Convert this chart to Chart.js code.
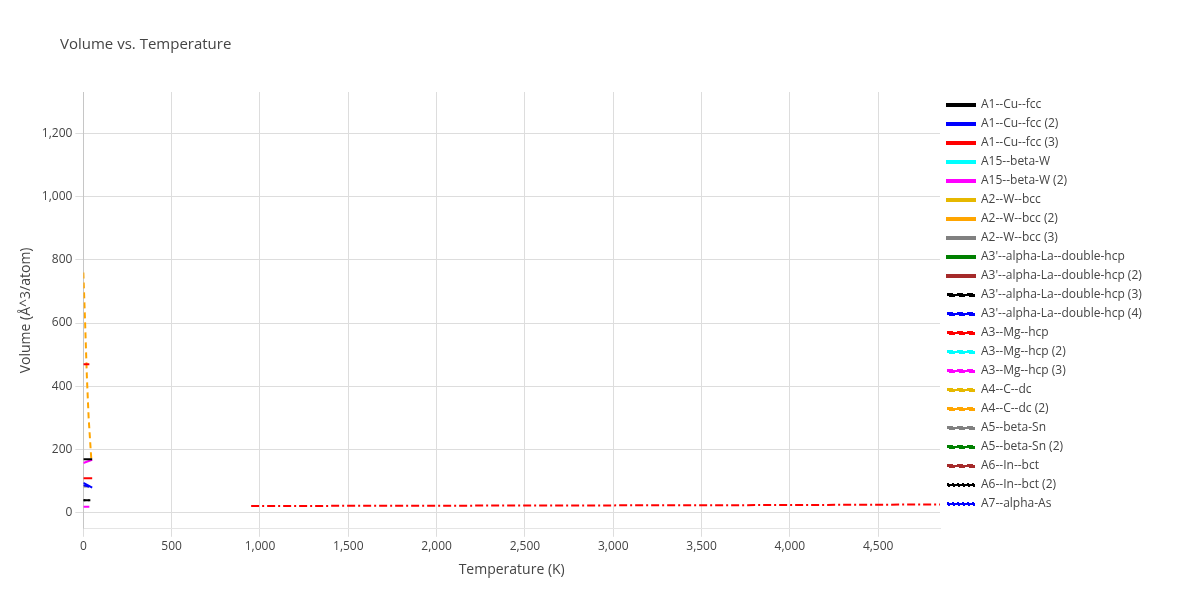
<!DOCTYPE html>
<html><head><script src="https://cdn.jsdelivr.net/npm/chart.js@4"></script>
<style>body{margin:0;background:#fff}#w{width:1200px;height:600px;position:relative}</style></head>
<body><div id="w"><canvas id="c"></canvas></div>
<script>
const names=["A1--Cu--fcc","A1--Cu--fcc (2)","A1--Cu--fcc (3)","A15--beta-W","A15--beta-W (2)","A2--W--bcc","A2--W--bcc (2)","A2--W--bcc (3)","A3'--alpha-La--double-hcp","A3'--alpha-La--double-hcp (2)","A3'--alpha-La--double-hcp (3)","A3'--alpha-La--double-hcp (4)","A3--Mg--hcp","A3--Mg--hcp (2)","A3--Mg--hcp (3)","A4--C--dc","A4--C--dc (2)","A5--beta-Sn","A5--beta-Sn (2)","A6--In--bct","A6--In--bct (2)","A7--alpha-As","extra"];
const colors=["#000","#0000ff","#ff0000","#00ffff","#ff00ff","#e6b800","#ffa500","#808080","#008000","#a52a2a","#000","#0000ff","#ff0000","#00ffff","#ff00ff","#e6b800","#ffa500","#808080","#008000","#a52a2a","#000","#0000ff","#ff0000"];
const dashes=[[],[],[],[],[],[],[],[],[],[],[6,4],[6,4],[6,4],[6,4],[6,4],[6,4],[6,4],[6,4],[6,4],[6,4],[2,3],[2,3],[8,3,2,3]];
const xs=[[0,50],[0,50],[0,50],[],[0,50],[],[],[],[],[],[0,50],[0,25,50],[0,50],[],[0,50],[],[0,10,20,30,45],[0,50],[],[],[0,50],[],[950,2000,3000,4000,4850]];
const ys=[[170,170],[95,80],[110,110],[],[158,168],[],[],[],[],[],[40,40],[88,84,80],[470,470],[],[20,20],[],[760,600,430,300,170],[84,84],[],[],[40,40],[],[22,23,24,25,27]];
const xTicks=[0,500,1000,1500,2000,2500,3000,3500,4000,4500];
const yTicks=[0,200,400,600,800,1000,1200];
const ds=names.map((n,i)=>({label:n,data:(xs[i]||[]).map((x,j)=>({x,y:ys[i][j]})),borderColor:colors[i],backgroundColor:colors[i],borderDash:dashes[i],borderWidth:2,pointRadius:0,fill:false,tension:0}));
const titlePlug={id:'tt',afterDraw(c){const x=c.ctx;x.save();x.fillStyle='#444';x.font='15px "Open Sans"';x.textBaseline='middle';x.fillText('Volume vs. Temperature',60,45);x.restore();}};
const lw={id:'lw',afterInit(c){const f=c.legend.fit;c.legend.fit=function(){f.call(this);this.width=250;};}};
new Chart(document.getElementById('c'),{type:'line',data:{datasets:ds},plugins:[titlePlug,lw],options:{responsive:true,maintainAspectRatio:false,animation:false,
layout:{padding:{left:14,right:10,top:92,bottom:18}},
plugins:{title:{display:false},
legend:{position:'right',align:'start',labels:{filter:i=>i.text!=='extra',boxWidth:28,boxHeight:2,color:'#444',font:{family:'Open Sans',size:12},padding:7}}},
scales:{x:{type:'linear',min:0,max:4850,title:{display:true,text:'Temperature (K)',color:'#444',font:{family:'Open Sans',size:14}},ticks:{color:'#444',font:{family:'Open Sans',size:12}},afterBuildTicks:a=>{a.ticks=xTicks.map(v=>({value:v}))},grid:{color:'#ddd'}},
y:{min:-50,max:1330,title:{display:true,text:'Volume (Å^3/atom)',color:'#444',font:{family:'Open Sans',size:14}},ticks:{color:'#444',font:{family:'Open Sans',size:12}},afterBuildTicks:a=>{a.ticks=yTicks.map(v=>({value:v}))},grid:{color:'#ddd'}}}}});
</script></body></html>
